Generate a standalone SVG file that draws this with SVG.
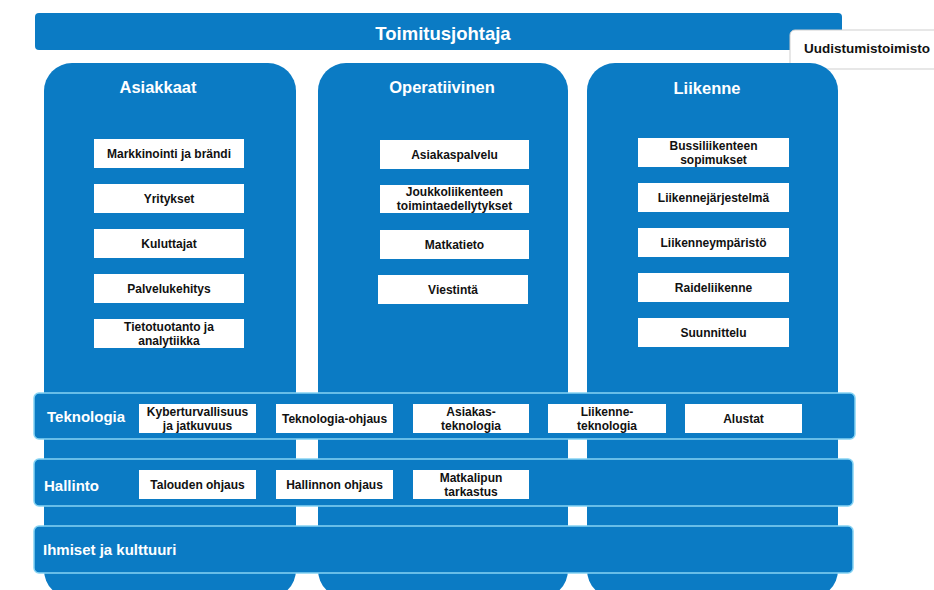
<svg xmlns="http://www.w3.org/2000/svg" width="934" height="590" viewBox="0 0 934 590">
<style>
.blue{fill:#0b7bc4}
.bar{fill:#0b7bc4;stroke:#86d3f3;stroke-width:1.5}
.box{fill:#ffffff}
.t{font-family:"Liberation Sans",Arial,sans-serif;font-weight:bold;fill:#111;font-size:12px;text-anchor:middle}
.h{font-family:"Liberation Sans",Arial,sans-serif;font-weight:bold;fill:#ffffff}
</style>
<rect width="934" height="590" fill="#ffffff"/>
<g id="top">
<rect class="blue" x="35" y="13" width="807" height="37" rx="4"/>
<text class="h" x="443" y="39.5" font-size="18.5" text-anchor="middle">Toimitusjohtaja</text>
</g>
<g id="uudistumistoimisto">
<rect x="790" y="30" width="160" height="39" rx="5" fill="#ffffff" stroke="#cfcfcf" stroke-width="1"/>
<text class="t" x="867" y="53" font-size="13.5" style="font-size:13.5px">Uudistumistoimisto</text>
</g>
<g id="col-asiakkaat">
<rect class="blue" x="44" y="63" width="252" height="535" rx="28"/>
<text class="h" x="158" y="93" font-size="16.5" text-anchor="middle">Asiakkaat</text>
<rect class="box" x="94" y="139" width="150" height="29"/>
<text class="t" x="169" y="158">Markkinointi ja brändi</text>
<rect class="box" x="94" y="184" width="150" height="29"/>
<text class="t" x="169" y="203">Yritykset</text>
<rect class="box" x="94" y="229" width="150" height="29"/>
<text class="t" x="169" y="248">Kuluttajat</text>
<rect class="box" x="94" y="274" width="150" height="29"/>
<text class="t" x="169" y="293">Palvelukehitys</text>
<rect class="box" x="94" y="319" width="150" height="29"/>
<text class="t" x="169" y="331">Tietotuotanto ja</text>
<text class="t" x="169" y="345">analytiikka</text>
</g>
<g id="col-operatiivinen">
<rect class="blue" x="318" y="63" width="250" height="535" rx="28"/>
<text class="h" x="442" y="93" font-size="16.5" text-anchor="middle">Operatiivinen</text>
<rect class="box" x="380" y="140" width="149" height="29"/>
<text class="t" x="454.5" y="159">Asiakaspalvelu</text>
<rect class="box" x="380" y="185" width="149" height="28"/>
<text class="t" x="454.5" y="196">Joukkoliikenteen</text>
<text class="t" x="454.5" y="210">toimintaedellytykset</text>
<rect class="box" x="380" y="230" width="149" height="29"/>
<text class="t" x="454.5" y="249">Matkatieto</text>
<rect class="box" x="378" y="275" width="150" height="29"/>
<text class="t" x="453" y="294">Viestintä</text>
</g>
<g id="col-liikenne">
<rect class="blue" x="587" y="63" width="251" height="535" rx="28"/>
<text class="h" x="707" y="94" font-size="16.5" text-anchor="middle">Liikenne</text>
<rect class="box" x="638" y="138" width="151" height="29"/>
<text class="t" x="713.5" y="150">Bussiliikenteen</text>
<text class="t" x="713.5" y="164">sopimukset</text>
<rect class="box" x="638" y="183" width="151" height="29"/>
<text class="t" x="713.5" y="202">Liikennejärjestelmä</text>
<rect class="box" x="638" y="228" width="151" height="29"/>
<text class="t" x="713.5" y="247">Liikenneympäristö</text>
<rect class="box" x="638" y="273" width="151" height="29"/>
<text class="t" x="713.5" y="292">Raideliikenne</text>
<rect class="box" x="638" y="318" width="151" height="29"/>
<text class="t" x="713.5" y="337">Suunnittelu</text>
</g>
<g id="teknologia">
<rect class="bar" x="34" y="393" width="821" height="46" rx="5"/>
<text class="h" x="47" y="422" font-size="15">Teknologia</text>
<rect class="box" x="139" y="404" width="117" height="29"/>
<text class="t" x="197.5" y="416">Kyberturvallisuus</text>
<text class="t" x="197.5" y="430">ja jatkuvuus</text>
<rect class="box" x="276" y="404" width="117" height="29"/>
<text class="t" x="334.5" y="423">Teknologia-ohjaus</text>
<rect class="box" x="413" y="404" width="116" height="29"/>
<text class="t" x="471" y="416">Asiakas-</text>
<text class="t" x="471" y="430">teknologia</text>
<rect class="box" x="548" y="404" width="118" height="29"/>
<text class="t" x="607" y="416">Liikenne-</text>
<text class="t" x="607" y="430">teknologia</text>
<rect class="box" x="685" y="404" width="117" height="29"/>
<text class="t" x="743.5" y="423">Alustat</text>
</g>
<g id="hallinto">
<rect class="bar" x="34" y="459" width="819" height="47" rx="5"/>
<text class="h" x="44" y="491" font-size="15">Hallinto</text>
<rect class="box" x="139" y="470" width="117" height="29"/>
<text class="t" x="197.5" y="489">Talouden ohjaus</text>
<rect class="box" x="276" y="470" width="117" height="29"/>
<text class="t" x="334.5" y="489">Hallinnon ohjaus</text>
<rect class="box" x="413" y="470" width="116" height="29"/>
<text class="t" x="471" y="482">Matkalipun</text>
<text class="t" x="471" y="496">tarkastus</text>
</g>
<g id="ihmiset">
<rect class="bar" x="34" y="526" width="819" height="47" rx="5"/>
<text class="h" x="43" y="555" font-size="15">Ihmiset ja kulttuuri</text>
</g>
<g id="connectors"></g>
</svg>
